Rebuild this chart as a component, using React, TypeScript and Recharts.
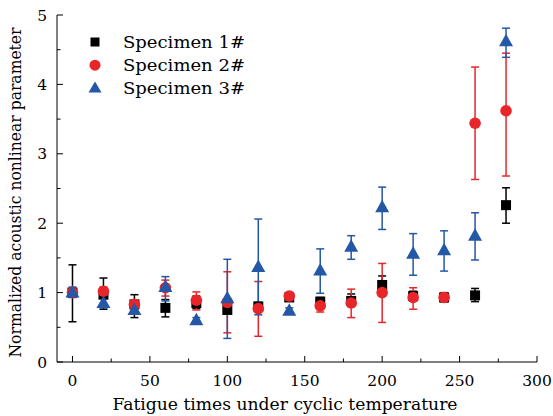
import React from 'react';
import { ScatterChart, Scatter, XAxis, YAxis, ErrorBar, Legend } from 'recharts';

const fatigueTimes = [0, 20, 40, 60, 80, 100, 120, 140, 160, 180, 200, 220, 240, 260, 280];

const spec1Values = [1.0, 0.97, 0.83, 0.78, 0.85, 0.75, 0.8, 0.93, 0.87, 0.88, 1.11, 0.95, 0.93, 0.96, 2.26];
const spec1Low = [0.58, 0.76, 0.64, 0.65, 0.77, 0.7, 0.75, 0.88, 0.82, 0.8, 0.97, 0.88, 0.87, 0.87, 2.0];
const spec1High = [1.4, 1.21, 0.97, 0.9, 0.95, 0.82, 0.86, 0.98, 0.93, 0.98, 1.24, 1.02, 0.99, 1.06, 2.51];

const spec2Values = [1.0, 1.02, 0.83, 1.07, 0.89, 0.86, 0.77, 0.95, 0.81, 0.85, 1.0, 0.93, 0.93, 3.44, 3.62];
const spec2Low = [0.95, 0.95, 0.78, 0.95, 0.75, 0.42, 0.37, 0.9, 0.72, 0.64, 0.57, 0.76, 0.87, 2.63, 2.68];
const spec2High = [1.05, 1.08, 0.88, 1.18, 1.01, 1.3, 1.16, 1.0, 0.92, 1.05, 1.42, 1.07, 1.0, 4.25, 4.45];

const spec3Values = [1.0, 0.85, 0.75, 1.08, 0.6, 0.92, 1.37, 0.74, 1.32, 1.66, 2.23, 1.56, 1.61, 1.82, 4.62];
const spec3Low = [0.93, 0.78, 0.7, 0.88, 0.56, 0.34, 0.68, 0.7, 0.99, 1.48, 1.91, 1.25, 1.31, 1.47, 4.39];
const spec3High = [1.08, 0.92, 0.8, 1.23, 0.64, 1.48, 2.06, 0.78, 1.63, 1.82, 2.52, 1.85, 1.89, 2.15, 4.81];

const seriesNames = ['Specimen 1#', 'Specimen 2#', 'Specimen 3#'];
const xTicks = [0, 25, 50, 75, 100, 125, 150, 175, 200, 225, 250, 275, 300];
const yTicks = [0, 0.5, 1, 1.5, 2, 2.5, 3, 3.5, 4, 4.5, 5];
const xTitle = 'Fatigue times under cyclic temperature';
const yTitle = 'Normalized acoustic nonlinear parameter';

const BLACK = '#000000';
const RED = '#E8262A';
const BLUE = '#2557A7';
const FONT = '"DejaVu Serif", serif';

const build = (vals: number[], lo: number[], hi: number[]) =>
  fatigueTimes.map((t, i) => ({ x: t, y: vals[i], err: [vals[i] - lo[i], hi[i] - vals[i]] }));

const data1 = build(spec1Values, spec1Low, spec1High);
const data2 = build(spec2Values, spec2Low, spec2High);
const data3 = build(spec3Values, spec3Low, spec3High);

const SquareShape = (p: any) => <rect x={p.cx - 5} y={p.cy - 5} width={10} height={10} fill={BLACK} />;
const CircleShape = (p: any) => <circle cx={p.cx} cy={p.cy} r={5.8} fill={RED} />;
const TriangleShape = (p: any) => (
  <polygon points={`${p.cx},${p.cy - 7.5} ${p.cx - 7},${p.cy + 5} ${p.cx + 7},${p.cy + 5}`} fill={BLUE} />
);

const isMajorX = (v: number) => v % 50 === 0;
const isMajorY = (v: number) => Math.abs(v - Math.round(v)) < 1e-6;

const BottomTick = (p: any) => {
  const v = p.payload.value;
  const major = isMajorX(v);
  return (
    <g>
      <line x1={p.x} y1={p.y} x2={p.x} y2={p.y - (major ? 6 : 3.5)} stroke="#000" strokeWidth={1} />
      {major && (
        <text x={p.x} y={p.y + 24} textAnchor="middle" fontFamily={FONT} fontSize={15.5} fill="#000">
          {v}
        </text>
      )}
    </g>
  );
};
const TopTick = (p: any) => {
  const v = p.payload.value;
  const major = isMajorX(v);
  return <line x1={p.x} y1={p.y} x2={p.x} y2={p.y + (major ? 6 : 3.5)} stroke="#000" strokeWidth={1} />;
};
const LeftTick = (p: any) => {
  const v = p.payload.value;
  const major = isMajorY(v);
  return (
    <g>
      <line x1={p.x} y1={p.y} x2={p.x + (major ? 6 : 3.5)} y2={p.y} stroke="#000" strokeWidth={1} />
      {major && (
        <text x={p.x - 10} y={p.y + 5.5} textAnchor="end" fontFamily={FONT} fontSize={15.5} fill="#000">
          {v}
        </text>
      )}
    </g>
  );
};
const RightTick = (p: any) => {
  const v = p.payload.value;
  const major = isMajorY(v);
  return <line x1={p.x} y1={p.y} x2={p.x - (major ? 6 : 3.5)} y2={p.y} stroke="#000" strokeWidth={1} />;
};

const XTitle = (p: any) => {
  const vb = p.viewBox || { x: 57, y: 362, width: 480, height: 54 };
  return (
    <text x={vb.x + vb.width / 2 - 12} y={vb.y + 48} textAnchor="middle" fontFamily={FONT} fontSize={16}
      textLength={345} lengthAdjust="spacingAndGlyphs" fill="#000">
      {xTitle}
    </text>
  );
};
const YTitle = (p: any) => {
  const vb = p.viewBox || { x: 0, y: 15, width: 57, height: 347 };
  const cx = 21;
  const cy = vb.y + vb.height / 2 + 4;
  return (
    <text x={cx} y={cy} transform={`rotate(-90 ${cx} ${cy})`} textAnchor="middle" fontFamily={FONT} fontSize={16}
      textLength={330} lengthAdjust="spacingAndGlyphs" fill="#000">
      {yTitle}
    </text>
  );
};

const legendMarkers = [
  <rect key="s" x={5} y={5} width={9} height={9} fill={BLACK} />,
  <circle key="c" cx={9.5} cy={9.5} r={5.5} fill={RED} />,
  <polygon key="t" points="9.5,2.5 3,13.5 16,13.5" fill={BLUE} />,
];

const renderLegend = () => (
  <svg width={553} height={416} style={{ position: 'absolute', left: 0, top: 0, pointerEvents: 'none' }}>
    {seriesNames.map((name, i) => (
      <g key={name}>
        <g transform={`translate(85.5, ${32.5 + i * 23.2})`}>{legendMarkers[i]}</g>
        <text x={123} y={47.5 + i * 23.2} fontFamily={FONT} fontSize={16} textLength={122}
          lengthAdjust="spacingAndGlyphs" fill="#000">
          {name}
        </text>
      </g>
    ))}
  </svg>
);

export default function App() {
  return (
    <div style={{ position: 'absolute', left: 0, top: 0, width: 553, height: 416, background: '#fff' }}>
      <ScatterChart width={553} height={416} margin={{ top: 15, right: 16, bottom: 0, left: 0 }}>
        <XAxis
          xAxisId="b"
          type="number"
          dataKey="x"
          domain={[-10, 300]}
          ticks={xTicks}
          orientation="bottom"
          height={54}
          tickSize={0}
          tickMargin={0}
          tick={BottomTick}
          axisLine={{ stroke: '#000', strokeWidth: 1 }}
          tickLine={false}
          interval={0}
          allowDataOverflow
          label={<XTitle />}
        />
        <XAxis
          xAxisId="t"
          type="number"
          dataKey="x"
          domain={[-10, 300]}
          ticks={xTicks}
          orientation="top"
          height={0}
          tickSize={0}
          tickMargin={0}
          tick={TopTick}
          axisLine={{ stroke: '#000', strokeWidth: 1 }}
          tickLine={false}
          interval={0}
          allowDataOverflow
        />
        <YAxis
          yAxisId="l"
          type="number"
          dataKey="y"
          domain={[0, 5]}
          ticks={yTicks}
          orientation="left"
          width={57}
          tickSize={0}
          tickMargin={0}
          tick={LeftTick}
          axisLine={{ stroke: '#000', strokeWidth: 1 }}
          tickLine={false}
          interval={0}
          allowDataOverflow
          label={<YTitle />}
        />
        <YAxis
          yAxisId="r"
          type="number"
          dataKey="y"
          domain={[0, 5]}
          ticks={yTicks}
          orientation="right"
          width={0}
          tickSize={0}
          tickMargin={0}
          tick={RightTick}
          axisLine={{ stroke: '#000', strokeWidth: 1 }}
          tickLine={false}
          interval={0}
          allowDataOverflow
        />
        <Legend
          layout="vertical"
          align="center"
          verticalAlign="middle"
          content={renderLegend}
          wrapperStyle={{ position: 'absolute', left: 0, top: 0, width: 553, height: 416, pointerEvents: 'none' }}
        />
        <Scatter name={seriesNames[0]} data={data1} xAxisId="b" yAxisId="l" shape={SquareShape} isAnimationActive={false}>
          <ErrorBar dataKey="err" direction="y" width={4} stroke={BLACK} strokeWidth={1.5} isAnimationActive={false} />
        </Scatter>
        <Scatter name={seriesNames[1]} data={data2} xAxisId="b" yAxisId="l" shape={CircleShape} isAnimationActive={false}>
          <ErrorBar dataKey="err" direction="y" width={4} stroke={RED} strokeWidth={1.5} isAnimationActive={false} />
        </Scatter>
        <Scatter name={seriesNames[2]} data={data3} xAxisId="b" yAxisId="l" shape={TriangleShape} isAnimationActive={false}>
          <ErrorBar dataKey="err" direction="y" width={4} stroke={BLUE} strokeWidth={1.5} isAnimationActive={false} />
        </Scatter>
      </ScatterChart>
    </div>
  );
}
